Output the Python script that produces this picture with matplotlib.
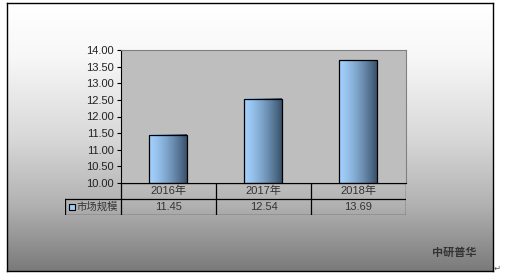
import matplotlib.pyplot as plt
import numpy as np
from matplotlib.patches import Rectangle

plt.rcParams['font.family'] = ['Liberation Sans', 'Noto Sans CJK SC', 'DejaVu Sans']

years = ['2016年', '2017年', '2018年']
values = [11.45, 12.54, 13.69]
series_name = '市场规模'
yticks = [10.0, 10.5, 11.0, 11.5, 12.0, 12.5, 13.0, 13.5, 14.0]
source = '中研普华'

W, H = 506, 279
fig = plt.figure(figsize=(W / 100, H / 100), dpi=100)


def px_axes(x0, y0, x1, y1, **kw):
    # axes from pixel box (top-left origin)
    return fig.add_axes([x0 / W, 1 - y1 / H, (x1 - x0) / W, (y1 - y0) / H], **kw)


# background with vertical gradient inside a framed box
bg = px_axes(7, 3, 493, 271)
rows = np.linspace(0, 1, 200)
shade = np.interp(rows, [0, 0.2, 0.5, 0.75, 1.0], [1.0, 0.97, 0.85, 0.70, 0.48])
bg.imshow(np.dstack([shade] * 3).reshape(200, 1, 3), aspect='auto',
          extent=[0, 1, 0, 1], origin='upper')
bg.set_xlim(0, 1)
bg.set_ylim(0, 1)
bg.set_xticks([])
bg.set_yticks([])
for s in bg.spines.values():
    s.set_color('black')
    s.set_linewidth(1.0)

# main plot
ax = px_axes(121, 50, 406, 183)
ax.set_facecolor('#bebebe')
x = np.arange(len(years))
bars = ax.bar(x, [v - 10 for v in values], bottom=10, width=0.4,
              color='none', edgecolor='black', linewidth=0.9, zorder=3)
grad = np.linspace(0, 1, 100) ** 1.4
c0 = np.array([0xa2, 0xd0, 0xfc]) / 255
c1 = np.array([0x3a, 0x52, 0x6c]) / 255
img = c0[None, :] * (1 - grad[:, None]) + c1[None, :] * grad[:, None]
for b in bars:
    bx, by = b.get_x(), b.get_y()
    bw, bh = b.get_width(), b.get_height()
    ax.imshow(img[None, :, :], aspect='auto', extent=[bx, bx + bw, by, by + bh],
              zorder=2, interpolation='bilinear')
ax.set_xlim(-0.5, len(years) - 0.5)
ax.set_ylim(10, 14)
ax.set_yticks(yticks)
ax.set_yticklabels([f'{t:.2f}' for t in yticks], fontsize=8, color='#222222')
ax.set_xticks([])
ax.tick_params(axis='y', length=3, width=0.8, pad=2, direction='out')
ax.spines['left'].set_color('black')
ax.spines['bottom'].set_color('black')
ax.spines['top'].set_color('#808080')
ax.spines['right'].set_color('#808080')

# data table below the plot
tb = px_axes(65, 183, 406, 215)
unit = (406 - 121) / len(years)
left = -0.5 - (121 - 65) / unit
tb.set_xlim(left, len(years) - 0.5)
tb.set_ylim(0, 2)
tb.axis('off')
tb.patch.set_alpha(0)
lw = 0.9
edges = [-0.5 + i for i in range(len(years) + 1)]
tb.plot([edges[0], edges[-1]], [2, 2], color='black', lw=lw)
tb.plot([left, edges[-1]], [1, 1], color='black', lw=lw)
tb.plot([left, edges[-1]], [0, 0], color='black', lw=lw)
for e in edges:
    tb.plot([e, e], [0, 2], color='black', lw=lw)
tb.plot([left, left], [0, 1], color='black', lw=lw)
for i, (yr, v) in enumerate(zip(years, values)):
    tb.text(i, 1.5, yr, ha='center', va='center', fontsize=8, color='#333333')
    tb.text(i, 0.5, f'{v:.2f}', ha='center', va='center', fontsize=8, color='#333333')
tb.add_patch(Rectangle((left + 0.04, 0.3), 0.065, 0.4, facecolor='#9cccf8',
                       edgecolor='black', lw=0.8, transform=tb.transData))
tb.text(left + 0.12, 0.5, series_name, ha='left', va='center', fontsize=7.5,
        color='#333333')

fig.text(432 / W, 1 - 253 / H, source, fontsize=8, color='#333333',
         ha='left', va='center', fontweight='bold')
fig.text(497 / W, 1 - 268 / H, '↵', fontsize=6, color='#555555',
         ha='center', va='center', family=['DejaVu Sans'])

fig.savefig('out.png', dpi=100)
